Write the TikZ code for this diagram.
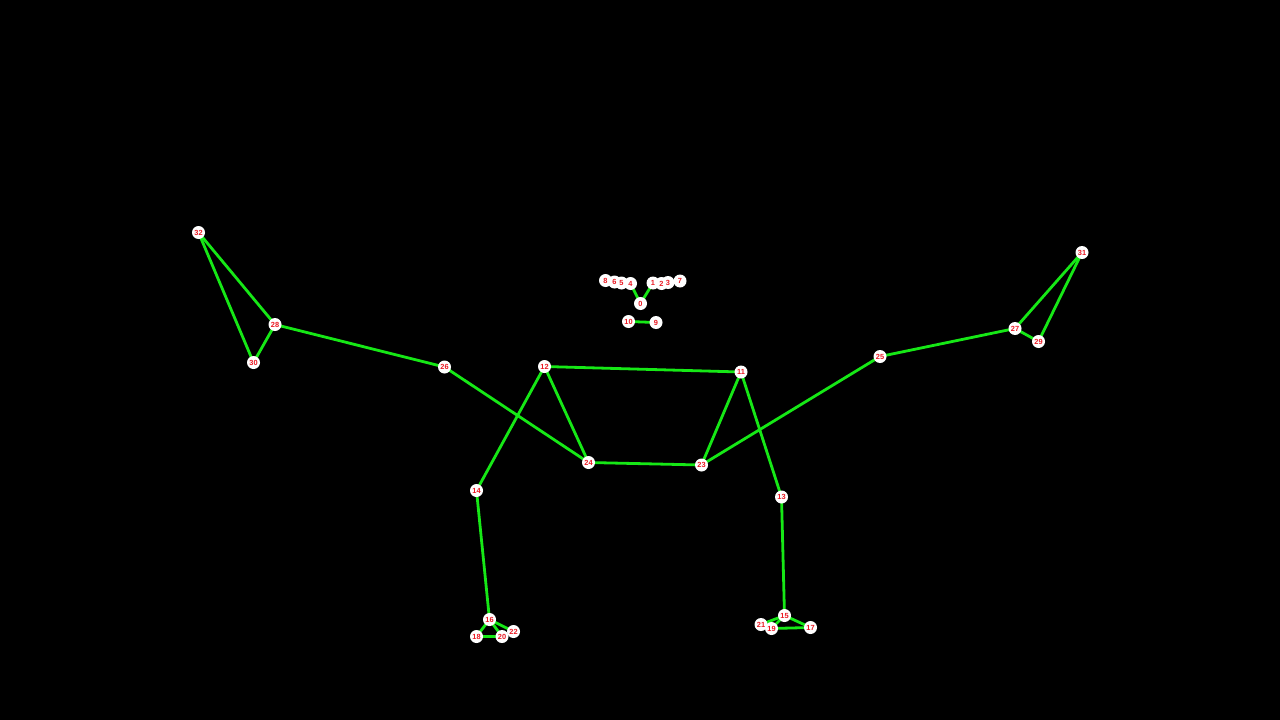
\documentclass[tikz,border=0pt]{standalone}
\usepackage{fontspec}
\setmainfont{Liberation Sans}
\usetikzlibrary{backgrounds}
\definecolor{bone}{RGB}{22,232,22}
\definecolor{lab}{RGB}{235,25,35}
\tikzset{
  kp/.style={circle,draw=none,inner sep=0pt,minimum size=13pt,text=lab,font=\fontsize{7.4}{8}\selectfont\bfseries},
  bonel/.style={draw=bone,line width=2.8pt}
}
\begin{document}
\begin{tikzpicture}[x=1pt,y=-1pt]
\useasboundingbox (0,0) rectangle (1280,720);
\node[kp] (n0) at (640.5,303.5) {0};
\node[kp] (n8) at (605.5,280.5) {8};
\node[kp] (n6) at (614.5,282) {6};
\node[kp] (n5) at (621.5,283) {5};
\node[kp] (n4) at (630.5,283.5) {4};
\node[kp] (n7) at (680,281) {7};
\node[kp] (n3) at (668,282.5) {3};
\node[kp] (n2) at (661.5,283.5) {2};
\node[kp] (n1) at (653,283) {1};
\node[kp] (n10) at (628.5,321.5) {10};
\node[kp] (n9) at (656,322.5) {9};
\node[kp] (n12) at (544.5,366.5) {12};
\node[kp] (n11) at (741,372) {11};
\node[kp] (n14) at (476.5,490.5) {14};
\node[kp] (n13) at (781.5,497) {13};
\node[kp] (n24) at (588.5,462.5) {24};
\node[kp] (n23) at (701.5,465) {23};
\node[kp] (n26) at (444.5,367) {26};
\node[kp] (n25) at (880,356.5) {25};
\node[kp] (n28) at (275,324.5) {28};
\node[kp] (n27) at (1015,328.5) {27};
\node[kp] (n30) at (253.5,362.5) {30};
\node[kp] (n29) at (1038.5,341.5) {29};
\node[kp] (n32) at (198.5,232.5) {32};
\node[kp] (n31) at (1082,252.5) {31};
\node[kp] (n22) at (513.5,631.5) {22};
\node[kp] (n16) at (489.5,619.5) {16};
\node[kp] (n18) at (476.5,636.5) {18};
\node[kp] (n20) at (502,636.5) {20};
\node[kp] (n21) at (761,624.5) {21};
\node[kp] (n19) at (771.5,628.5) {19};
\node[kp] (n15) at (784.5,615.5) {15};
\node[kp] (n17) at (810.5,627.5) {17};
\begin{scope}[on background layer]
\fill[black] (0,0) rectangle (1280,720);
\foreach \a/\b in {0/4,0/1,9/10,11/12,11/13,13/15,15/17,15/19,15/21,17/19,12/14,14/16,16/18,16/20,16/22,18/20,11/23,12/24,23/24,23/25,24/26,25/27,26/28,27/29,28/30,27/31,28/32,29/31,30/32}
  \draw[bonel] (n\a.center) -- (n\b.center);
\foreach \a in {0,...,32}
  \fill[white] (n\a.center) circle[radius=6.5pt];
\end{scope}
\end{tikzpicture}
\end{document}
